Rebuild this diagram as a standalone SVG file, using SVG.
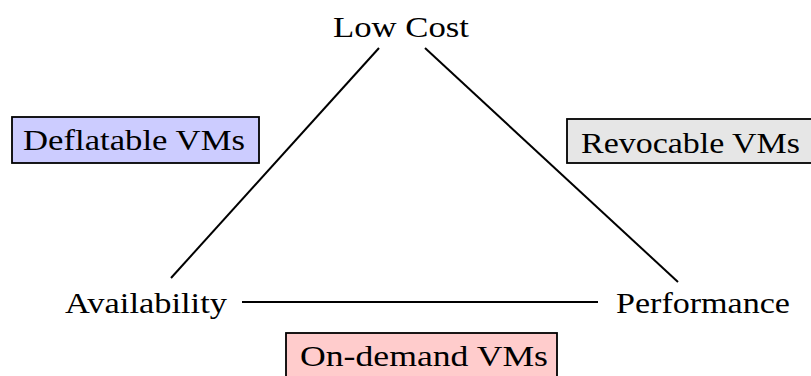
<svg xmlns="http://www.w3.org/2000/svg" width="811" height="376" viewBox="0 0 811 376">
<style>
text{font-family:"Liberation Serif","Times New Roman",serif;font-size:29px;fill:#000}
.box{stroke:#000;stroke-width:1.8}
.edge{stroke:#000;stroke-width:2;fill:none}
</style>
<rect width="811" height="376" fill="#fff"/>
<g id="connectors">
<line class="edge" x1="379" y1="48" x2="171" y2="278"/>
<line class="edge" x1="425" y1="48" x2="678" y2="282"/>
<line class="edge" x1="242" y1="302" x2="598" y2="302"/>
</g>
<g id="lowcost"><text x="333" y="37" textLength="136" lengthAdjust="spacingAndGlyphs">Low Cost</text></g>
<g id="availability"><text x="65" y="313" textLength="162" lengthAdjust="spacingAndGlyphs">Availability</text></g>
<g id="performance"><text x="616" y="313" textLength="174" lengthAdjust="spacingAndGlyphs">Performance</text></g>
<g id="deflatable"><rect class="box" x="12" y="117" width="247" height="46" fill="#ccccff"/><text x="23" y="150" textLength="222" lengthAdjust="spacingAndGlyphs">Deflatable VMs</text></g>
<g id="revocable"><rect class="box" x="567" y="119" width="250" height="44" fill="#e6e6e6"/><text x="581" y="153" textLength="219" lengthAdjust="spacingAndGlyphs">Revocable VMs</text></g>
<g id="ondemand"><rect class="box" x="286" y="333" width="271" height="50" fill="#ffcccc"/><text x="300" y="366" textLength="248" lengthAdjust="spacingAndGlyphs">On-demand VMs</text></g>
</svg>
